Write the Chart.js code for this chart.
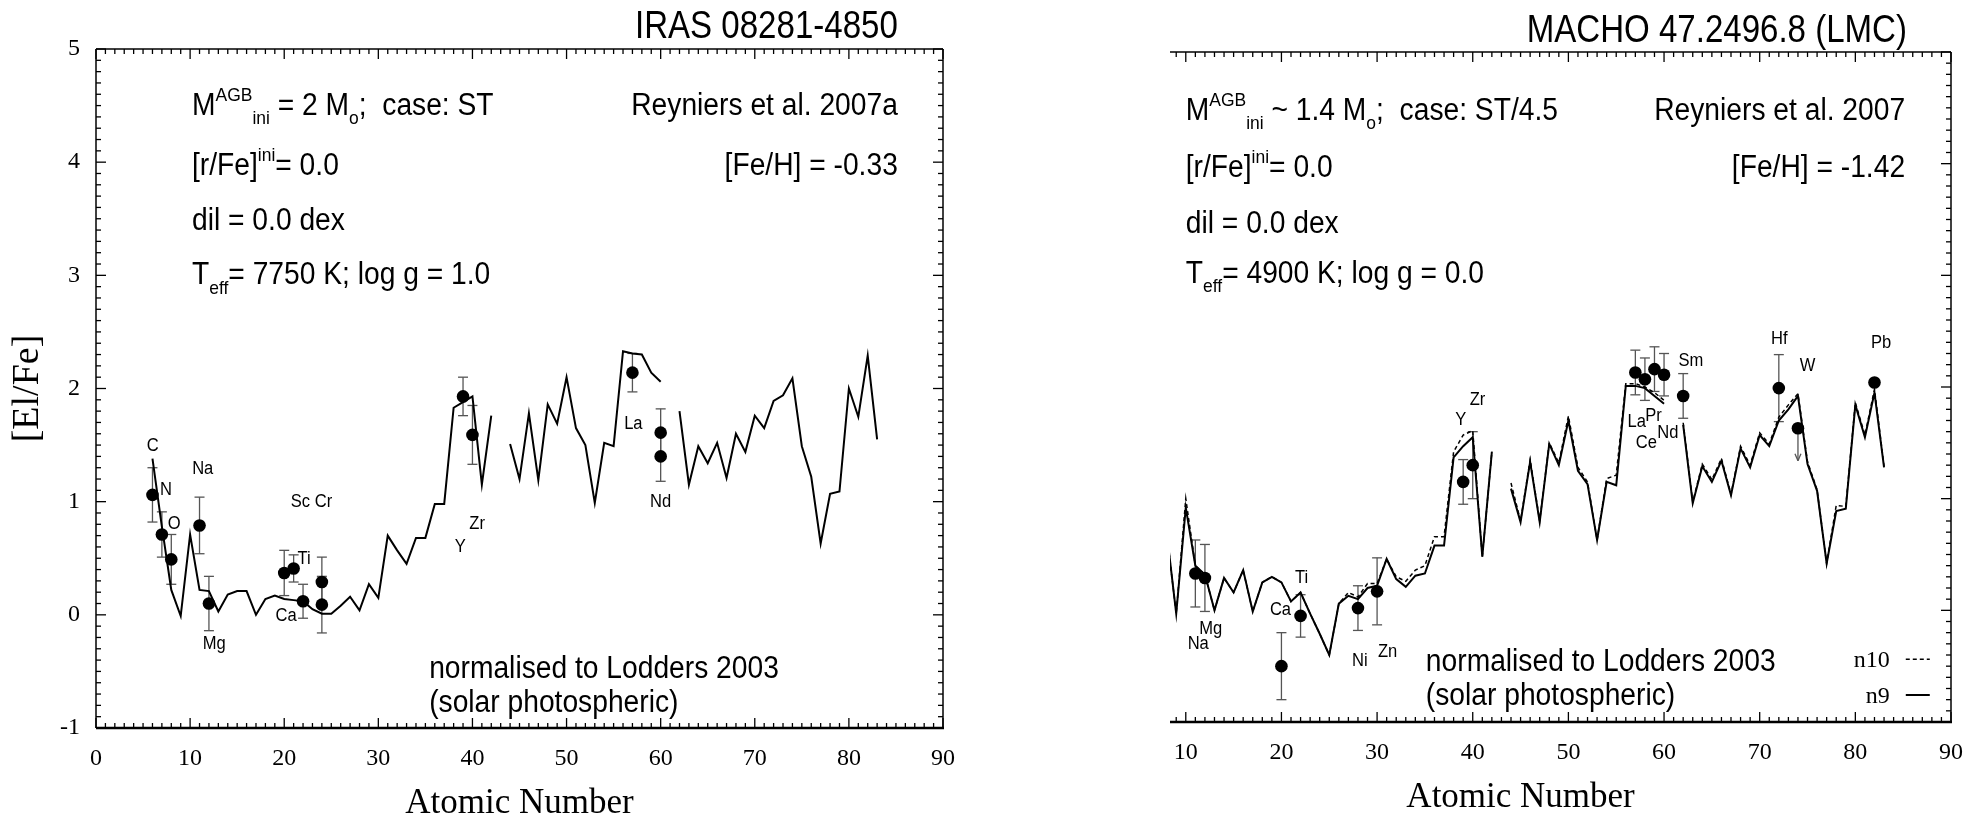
<!DOCTYPE html>
<html>
<head>
<meta charset="utf-8">
<script src="https://cdn.jsdelivr.net/npm/chart.js@4.4.0/dist/chart.umd.min.js"></script>
<style>
  body { margin: 0; background: #fff; }
  #wrap { position: relative; width: 1979px; height: 816px; overflow: hidden; }
  #wrap canvas { position: absolute; top: 0; }
</style>
</head>
<body>
<div id="wrap">
  <canvas id="iras" width="990" height="816" style="left:0"></canvas>
  <canvas id="macho" width="989" height="816" style="left:990px"></canvas>
</div>
<script>
// ---- IRAS 08281-4850 -------------------------------------------------------
const irasZ = [6, 7, 8, 9, 10, 11, 12, 13, 14, 15,
               16, 17, 18, 19, 20, 21, 22, 23, 24, 25,
               26, 27, 28, 29, 30, 31, 32, 33, 34, 35,
               36, 37, 38, 39, 40, 41, 42, 43, 44, 45,
               46, 47, 48, 49, 50, 51, 52, 53, 54, 55,
               56, 57, 58, 59, 60, 61, 62, 63, 64, 65,
               66, 67, 68, 69, 70, 71, 72, 73, 74, 75,
               76, 77, 78, 79, 80, 81, 82, 83];
// model prediction (null = Tc, Pm)
const irasModel = [1.38, 0.78, 0.22, -0.01, 0.71, 0.22, 0.21, 0.03, 0.18, 0.21,
                   0.21, 0.00, 0.14, 0.17, 0.14, 0.13, 0.12, 0.05, 0.01, 0.01,
                   0.08, 0.16, 0.04, 0.27, 0.15, 0.70, 0.57, 0.45, 0.68, 0.68,
                   0.98, 0.98, 1.83, 1.88, 1.93, 1.15, 1.76, null, 1.51, 1.20,
                   1.78, 1.19, 1.86, 1.69, 2.10, 1.65, 1.50, 0.99, 1.52, 1.49,
                   2.33, 2.31, 2.30, 2.14, 2.06, null, 1.80, 1.15, 1.49, 1.34,
                   1.52, 1.21, 1.60, 1.44, 1.76, 1.65, 1.89, 1.94, 2.09, 1.49,
                   1.22, 0.63, 1.07, 1.09, 2.00, 1.75, 2.29, 1.55];
// observed abundances
const irasObsZ = [6, 7, 8, 11, 12, 20, 21, 22, 24, 24, 39, 40, 57, 60, 60];
const irasObs  = [1.06, 0.71, 0.49, 0.79, 0.10, 0.37, 0.41, 0.12, 0.29, 0.09, 1.93, 1.59, 2.14, 1.61, 1.40];
const irasErr  = [0.24, 0.20, 0.22, 0.25, 0.24, 0.20, 0.12, 0.15, 0.22, 0.25, 0.17, 0.26, 0.17, 0.21, 0.22];

// ---- MACHO 47.2496.8 (LMC) -------------------------------------------------
const machoZ = [8, 9, 10, 11, 12, 13, 14, 15, 16, 17,
                18, 19, 20, 21, 22, 23, 24, 25, 26, 27,
                28, 29, 30, 31, 32, 33, 34, 35, 36, 37,
                38, 39, 40, 41, 42, 43, 44, 45, 46, 47,
                48, 49, 50, 51, 52, 53, 54, 55, 56, 57,
                58, 59, 60, 61, 62, 63, 64, 65, 66, 67,
                68, 69, 70, 71, 72, 73, 74, 75, 76, 77,
                78, 79, 80, 81, 82, 83];
const machoN9 = [0.70, -0.03, 0.92, 0.40, 0.32, 0.00, 0.29, 0.16, 0.36, -0.01,
                 0.25, 0.30, 0.25, 0.08, 0.16, -0.03, -0.21, -0.40, 0.06, 0.13,
                 0.10, 0.20, 0.22, 0.46, 0.28, 0.21, 0.31, 0.33, 0.58, 0.58,
                 1.37, 1.47, 1.55, 0.48, 1.42, null, 1.09, 0.79, 1.33, 0.79,
                 1.49, 1.30, 1.70, 1.25, 1.13, 0.63, 1.15, 1.12, 2.01, 2.01,
                 1.99, 1.92, 1.85, null, 1.66, 0.96, 1.29, 1.15, 1.34, 1.03,
                 1.45, 1.28, 1.57, 1.47, 1.70, 1.80, 1.92, 1.31, 1.07, 0.42,
                 0.89, 0.91, 1.84, 1.55, 1.95, 1.28];
const machoN10 = [0.70, -0.03, 1.00, 0.40, 0.32, 0.00, 0.29, 0.16, 0.36, -0.01,
                  0.25, 0.30, 0.25, 0.08, 0.16, -0.03, -0.21, -0.40, 0.06, 0.16,
                  0.12, 0.24, 0.24, 0.46, 0.30, 0.26, 0.36, 0.40, 0.66, 0.66,
                  1.42, 1.57, 1.61, 0.48, 1.42, null, 1.14, 0.80, 1.35, 0.80,
                  1.50, 1.32, 1.74, 1.28, 1.15, 0.63, 1.18, 1.21, 2.03, 2.03,
                  2.00, 1.95, 1.88, null, 1.68, 0.97, 1.31, 1.17, 1.36, 1.04,
                  1.47, 1.30, 1.59, 1.49, 1.73, 1.84, 1.94, 1.33, 1.08, 0.42,
                  0.94, 0.93, 1.86, 1.57, 1.98, 1.29];
const machoObsZ = [11, 12, 20, 22, 28, 30, 39, 40, 57, 58, 59, 60, 62, 72, 74, 82];
const machoObs  = [0.33, 0.29, -0.50, -0.05, 0.02, 0.17, 1.15, 1.30, 2.13, 2.07, 2.16, 2.11, 1.92, 1.99, 1.63, 2.04];
const machoErr  = [0.30, 0.30, 0.30, 0.19, 0.20, 0.30, 0.20, 0.30, 0.20, 0.19, 0.20, 0.19, 0.20, 0.30, 0, 0];
// W is an upper limit
const machoLimitZ  = [74];
const machoLimitTo = [1.34];

// ---- axes ------------------------------------------------------------------
const irasXTicks  = [0, 10, 20, 30, 40, 50, 60, 70, 80, 90];
const machoXTicks = [10, 20, 30, 40, 50, 60, 70, 80, 90];
const yTicks      = [-1, 0, 1, 2, 3, 4, 5];

const SANS  = '"Liberation Sans", Arial, Helvetica, sans-serif';
const SERIF = '"Liberation Serif", "Times New Roman", serif';

// element names next to the points: [text, Z, value]
const irasTags = [
  ['C', 6.03, 1.49], ['N', 7.44, 1.10], ['O', 8.32, 0.80], ['Na', 11.34, 1.29],
  ['Mg', 12.57, -0.26], ['Sc Cr', 22.9, 1.0], ['Ti', 22.1, 0.49], ['Ca', 20.2, -0.01],
  ['Y', 38.7, 0.60], ['Zr', 40.5, 0.80], ['La', 57.1, 1.69], ['Nd', 60.0, 1.0]
];
const machoTags = [
  ['Na', 11.3, -0.30], ['Mg', 12.6, -0.17], ['Ca', 19.9, 0.0], ['Ti', 22.1, 0.29],
  ['Ni', 28.2, -0.45], ['Zn', 31.1, -0.37], ['Y', 38.75, 1.70], ['Zr', 40.5, 1.88],
  ['La', 57.15, 1.69], ['Pr', 58.9, 1.74], ['Ce', 58.15, 1.50], ['Nd', 60.4, 1.59],
  ['Sm', 62.8, 2.23], ['Hf', 72.05, 2.43], ['W', 75.0, 2.19], ['Pb', 82.7, 2.39]
];

function points(xs, ys) {
  return xs.map((x, i) => ({ x: x, y: ys[i] }));
}

// text with optional super/subscripts, squeezed horizontally
function richText(ctx, parts, x, y, size, align, squeeze) {
  const sq = squeeze || 1;
  const sizeOf = k => (k ? size * 0.62 : size);
  let total = 0;
  const widths = parts.map(([t, k]) => {
    ctx.font = sizeOf(k) + 'px ' + SANS;
    const w = ctx.measureText(t).width * sq;
    total += w;
    return w;
  });
  let cx = align === 'right' ? x - total : align === 'center' ? x - total / 2 : x;
  parts.forEach(([t, k], i) => {
    const dy = k === 'sup' ? -size * 0.45 : k === 'sub' ? size * 0.3 : 0;
    ctx.save();
    ctx.font = sizeOf(k) + 'px ' + SANS;
    ctx.textAlign = 'left';
    ctx.textBaseline = 'alphabetic';
    ctx.translate(cx, y + dy);
    ctx.scale(sq, 1);
    ctx.fillText(t, 0, 0);
    ctx.restore();
    cx += widths[i];
  });
}

function seg(ctx, x1, y1, x2, y2) {
  ctx.beginPath();
  ctx.moveTo(x1, y1);
  ctx.lineTo(x2, y2);
  ctx.stroke();
}

// error bars under the points
const errorBars = {
  id: 'errorBars',
  beforeDatasetsDraw(chart, args, opts) {
    const { ctx, scales: { x, y } } = chart;
    ctx.save();
    ctx.strokeStyle = '#555';
    ctx.lineWidth = 1.3;
    opts.z.forEach((z, i) => {
      const e = opts.err[i];
      if (!e) return;
      const px = x.getPixelForValue(z);
      const top = y.getPixelForValue(opts.val[i] + e);
      const bot = y.getPixelForValue(opts.val[i] - e);
      seg(ctx, px, top, px, bot);
      seg(ctx, px - 5, top, px + 5, top);
      seg(ctx, px - 5, bot, px + 5, bot);
    });
    (opts.limitZ || []).forEach((z, i) => {
      const px = x.getPixelForValue(z);
      const from = y.getPixelForValue(opts.val[opts.z.indexOf(z)]);
      const to = y.getPixelForValue(opts.limitTo[i]);
      seg(ctx, px, from, px, to);
      seg(ctx, px - 3, to - 7, px, to);
      seg(ctx, px + 3, to - 7, px, to);
    });
    ctx.restore();
  }
};

// box, inward ticks and all the lettering
const frame = {
  id: 'frame',
  afterDraw(chart, args, opts) {
    const { ctx, chartArea: a, scales: { x, y } } = chart;
    ctx.save();
    ctx.strokeStyle = '#000';
    ctx.fillStyle = '#000';

    ctx.lineWidth = 2.5;
    seg(ctx, a.left, a.bottom, a.right + 1, a.bottom);
    ctx.lineWidth = 1.5;
    seg(ctx, a.left, a.top, a.right, a.top);
    seg(ctx, a.right, a.top, a.right, a.bottom);
    if (opts.leftSpine) seg(ctx, a.left, a.top, a.left, a.bottom);

    ctx.lineWidth = 1.3;
    for (let v = Math.ceil(x.min); v <= x.max; v++) {
      const px = x.getPixelForValue(v);
      const len = v % 10 === 0 ? 10 : 5;
      seg(ctx, px, a.bottom, px, a.bottom - len);
      seg(ctx, px, a.top, px, a.top + len);
    }
    for (let i = -10; i <= 50; i++) {
      const py = y.getPixelForValue(i / 10);
      const len = i % 10 === 0 ? 10 : 5;
      seg(ctx, a.right, py, a.right - len, py);
      if (opts.leftSpine) seg(ctx, a.left, py, a.left + len, py);
    }

    // titles
    ctx.textBaseline = 'alphabetic';
    richText(ctx, [[opts.title]], x.getPixelForValue(opts.titleAt), a.top - opts.titleGap, 38, 'right', 0.87);

    // model notes
    opts.notes.forEach(n => {
      richText(ctx, n.parts, x.getPixelForValue(n.at[0]), y.getPixelForValue(n.at[1]), 31, n.align || 'left', 0.91);
    });

    // element names
    ctx.font = '18px ' + SANS;
    ctx.textAlign = 'center';
    ctx.textBaseline = 'middle';
    opts.tags.forEach(([t, z, v]) => {
      ctx.save();
      ctx.translate(x.getPixelForValue(z), y.getPixelForValue(v));
      ctx.scale(0.92, 1);
      ctx.fillText(t, 0, 0);
      ctx.restore();
    });

    // legend for the two model runs
    if (opts.legend) {
      ctx.font = '24px ' + SERIF;
      ctx.textAlign = 'right';
      ctx.textBaseline = 'alphabetic';
      opts.legend.forEach(l => {
        const px = x.getPixelForValue(l.at[0]);
        const py = y.getPixelForValue(l.at[1]);
        ctx.fillText(l.text, px, py);
        ctx.lineWidth = l.dash.length ? 1.5 : 2;
        ctx.setLineDash(l.dash);
        seg(ctx, px + 16, py - 8, px + 40, py - 8);
        ctx.setLineDash([]);
      });
    }

    // axis titles
    ctx.font = '35px ' + SERIF;
    ctx.textAlign = 'center';
    ctx.textBaseline = 'alphabetic';
    ctx.fillText('Atomic Number', x.getPixelForValue(45), a.bottom + 85);
    if (opts.yTitle) {
      ctx.save();
      ctx.translate(a.left - 68, y.getPixelForValue(2.0));
      ctx.rotate(-Math.PI / 2);
      ctx.font = '38px ' + SERIF;
      ctx.textBaseline = 'middle';
      ctx.fillText('[El/Fe]', 0, 0);
      ctx.restore();
    }
    ctx.restore();
  }
};

function panel(canvasId, p) {
  return new Chart(document.getElementById(canvasId), {
    type: 'scatter',
    data: { datasets: p.datasets },
    options: {
      responsive: false,
      animation: false,
      events: [],
      layout: { padding: p.padding },
      scales: {
        x: {
          type: 'linear',
          min: p.xMin,
          max: 90,
          afterBuildTicks: s => { s.ticks = p.xTicks.map(v => ({ value: v })); },
          afterFit: s => { s.height = p.xHeight; },
          grid: { display: false, drawTicks: false },
          border: { display: false },
          ticks: { color: '#000', padding: 16, maxRotation: 0, autoSkip: false, font: { family: SERIF, size: 24 } }
        },
        y: {
          type: 'linear',
          min: -1,
          max: 5,
          afterBuildTicks: s => { s.ticks = yTicks.map(v => ({ value: v })); },
          afterFit: s => { s.width = p.yWidth; },
          grid: { display: false, drawTicks: false },
          border: { display: false },
          ticks: { display: p.yLabels, color: '#000', padding: 16, font: { family: SERIF, size: 24 } }
        }
      },
      plugins: {
        legend: { display: false },
        tooltip: { enabled: false },
        errorBars: p.errors,
        frame: p.frame
      }
    },
    plugins: [errorBars, frame]
  });
}

const modelLine = (data, dash, width) => ({
  type: 'line',
  data: data,
  borderColor: '#000',
  borderWidth: width,
  borderDash: dash,
  pointRadius: 0,
  spanGaps: false,
  tension: 0
});
const obsDots = data => ({
  type: 'scatter',
  data: data,
  pointRadius: 6.3,
  pointBackgroundColor: '#000',
  pointBorderWidth: 0
});

panel('iras', {
  padding: { left: 0, top: 49, right: 47, bottom: 0 },
  xMin: 0,
  xTicks: irasXTicks,
  xHeight: 88,
  yWidth: 96,
  yLabels: true,
  datasets: [
    modelLine(points(irasZ, irasModel), [], 2),
    obsDots(points(irasObsZ, irasObs))
  ],
  errors: { z: irasObsZ, val: irasObs, err: irasErr },
  frame: {
    leftSpine: true,
    yTitle: true,
    title: 'IRAS 08281-4850',
    titleAt: 85.2,
    titleGap: 11,
    tags: irasTags,
    notes: [
      { at: [10.2, 4.42], parts: [['M'], ['AGB', 'sup'], ['ini', 'sub'], [' = 2 M'], ['o', 'sub'], [';  case: ST']] },
      { at: [10.2, 3.89], parts: [['[r/Fe]'], ['ini', 'sup'], ['= 0.0']] },
      { at: [10.2, 3.40], parts: [['dil = 0.0 dex']] },
      { at: [10.2, 2.92], parts: [['T'], ['eff', 'sub'], ['= 7750 K; log g = 1.0']] },
      { at: [85.2, 4.42], parts: [['Reyniers et al. 2007a']], align: 'right' },
      { at: [85.2, 3.89], parts: [['[Fe/H] = -0.33']], align: 'right' },
      { at: [35.4, -0.56], parts: [['normalised to Lodders 2003']] },
      { at: [35.4, -0.86], parts: [['(solar photospheric)']] }
    ]
  }
});

panel('macho', {
  padding: { left: 0, top: 52, right: 18, bottom: 0 },
  xMin: 8.35,
  xTicks: machoXTicks,
  xHeight: 94,
  yWidth: 180,
  yLabels: false,
  datasets: [
    modelLine(points(machoZ, machoN10), [4, 3], 1.5),
    modelLine(points(machoZ, machoN9), [], 2),
    obsDots(points(machoObsZ, machoObs))
  ],
  errors: { z: machoObsZ, val: machoObs, err: machoErr, limitZ: machoLimitZ, limitTo: machoLimitTo },
  frame: {
    leftSpine: false,
    yTitle: false,
    title: 'MACHO 47.2496.8 (LMC)',
    titleAt: 85.4,
    titleGap: 10,
    tags: machoTags,
    notes: [
      { at: [10.0, 4.39], parts: [['M'], ['AGB', 'sup'], ['ini', 'sub'], [' ~ 1.4 M'], ['o', 'sub'], [';  case: ST/4.5']] },
      { at: [10.0, 3.88], parts: [['[r/Fe]'], ['ini', 'sup'], ['= 0.0']] },
      { at: [10.0, 3.38], parts: [['dil = 0.0 dex']] },
      { at: [10.0, 2.93], parts: [['T'], ['eff', 'sub'], ['= 4900 K; log g = 0.0']] },
      { at: [85.2, 4.39], parts: [['Reyniers et al. 2007']], align: 'right' },
      { at: [85.2, 3.88], parts: [['[Fe/H] = -1.42']], align: 'right' },
      { at: [35.1, -0.54], parts: [['normalised to Lodders 2003']] },
      { at: [35.1, -0.85], parts: [['(solar photospheric)']] }
    ],
    legend: [
      { text: 'n10', at: [83.6, -0.51], dash: [4, 3] },
      { text: 'n9', at: [83.6, -0.83], dash: [] }
    ]
  }
});
</script>
</body>
</html>
